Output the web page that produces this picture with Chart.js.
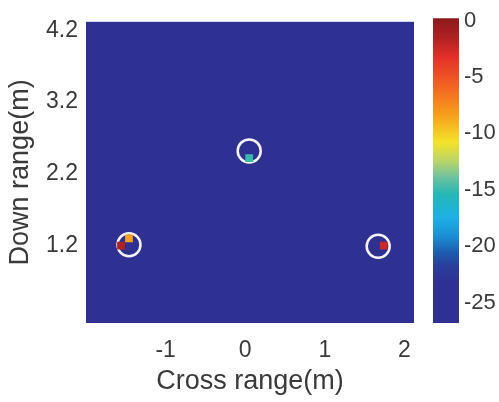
<!DOCTYPE html>
<html>
<head>
<meta charset="utf-8">
<script src="https://cdn.jsdelivr.net/npm/chart.js@4"></script>
<style>
    html, body { margin: 0; padding: 0; background: #fff; overflow: hidden; }
    #wrap { position: relative; width: 499px; height: 402px; }
    #mapChart { position: absolute; left: 0; top: 0; }
    #barChart { position: absolute; left: 433px; top: 0; }
</style>
</head>
<body>
<div id="wrap">
    <canvas id="mapChart" width="499" height="402"></canvas>
    <canvas id="barChart" width="66" height="402"></canvas>
</div>
<script>
const xTicks = [-1, 0, 1, 2];
const yTicks = [1.2, 2.2, 3.2, 4.2];
const cbTicks = [0, -5, -10, -15, -20, -25];

// target markers (white circles)
const targetX = [-1.46, 0.05, 1.67];
const targetY = [1.21, 2.52, 1.19];

// image peaks, in dB
const peakX = [-1.46, -1.56, 0.05, 1.74];
const peakY = [1.30, 1.20, 2.42, 1.20];
const peakDb = [-8.5, -1.5, -15, -2.5];

const floorDb = -26.8;
const topDb = 0.2;

// colormap
const cmapDb = [0.2, -1.6, -3.3, -5.9, -8.5, -10.8, -12.5, -13.9, -15.4, -17.4, -19.1, -20.5, -21.7, -23.1, -26.8];
const cmapCol = ['#8b1a1a', '#b22222', '#e53028', '#f26522', '#f7a21b', '#f4e32a', '#b8d46a', '#6cc2a0',
    '#25b7b5', '#1db1e5', '#1a8fd5', '#1c5eae', '#2a3f9c', '#2e3192', '#2e3192'];

function hexRgb(h) {
    return [parseInt(h.substr(1, 2), 16), parseInt(h.substr(3, 2), 16), parseInt(h.substr(5, 2), 16)];
}

function dbColor(v) {
    if (v >= cmapDb[0]) return cmapCol[0];
    for (let i = 1; i < cmapDb.length; i++) {
        if (v >= cmapDb[i]) {
            const t = (cmapDb[i - 1] - v) / (cmapDb[i - 1] - cmapDb[i]);
            const a = hexRgb(cmapCol[i - 1]), b = hexRgb(cmapCol[i]);
            const c = a.map((x, k) => Math.round(x + (b[k] - x) * t));
            return 'rgb(' + c.join(',') + ')';
        }
    }
    return cmapCol[cmapCol.length - 1];
}

const font = { family: '"Liberation Sans", Arial, sans-serif', size: 23 };
const cbFont = { family: '"Liberation Sans", Arial, sans-serif', size: 22 };
const titleFont = { family: '"Liberation Sans", Arial, sans-serif', size: 27 };
const textColor = '#3a3a3a';

const mapBackground = {
    id: 'mapBackground',
    beforeDatasetsDraw(chart) {
        const a = chart.chartArea;
        const ctx = chart.ctx;
        ctx.save();
        ctx.fillStyle = dbColor(floorDb);
        ctx.fillRect(a.left, a.top, a.right - a.left, a.bottom - a.top);
        ctx.restore();
    }
};

new Chart(document.getElementById('mapChart'), {
    type: 'scatter',
    data: {
        datasets: [{
            data: peakX.map((x, i) => ({ x: x, y: peakY[i] })),
            pointStyle: 'rect',
            pointRadius: 5.5,
            borderWidth: 0,
            backgroundColor: peakDb.map(dbColor),
            order: 0
        }, {
            data: targetX.map((x, i) => ({ x: x, y: targetY[i] })),
            pointStyle: 'circle',
            pointRadius: 11.5,
            borderWidth: 2.5,
            borderColor: '#f4f4f8',
            backgroundColor: 'rgba(0,0,0,0)',
            order: 1
        }]
    },
    options: {
        responsive: false,
        animation: false,
        events: [],
        layout: { padding: { top: 11, right: 85, left: 0, bottom: 0 } },
        plugins: { legend: { display: false }, tooltip: { enabled: false } },
        scales: {
            x: {
                min: -2.0,
                max: 2.12,
                afterBuildTicks: (s) => { s.ticks = xTicks.map(v => ({ value: v })); },
                afterFit: (s) => { s.height = 79; },
                grid: { display: false, drawTicks: false },
                border: { display: false },
                ticks: { font: font, color: textColor, padding: 14 },
                title: { display: true, text: 'Cross range(m)', font: titleFont, color: textColor, padding: { top: 1 } }
            },
            y: {
                min: 0.12,
                max: 4.32,
                afterBuildTicks: (s) => { s.ticks = yTicks.map(v => ({ value: v })); },
                afterFit: (s) => { s.width = 86; },
                grid: { display: false, drawTicks: false },
                border: { display: false },
                ticks: { font: font, color: textColor, padding: 8, callback: (v) => v.toFixed(1) },
                title: { display: true, text: 'Down range(m)', font: titleFont, color: textColor, padding: { bottom: 0 } }
            }
        }
    },
    plugins: [mapBackground]
});

new Chart(document.getElementById('barChart'), {
    type: 'bar',
    data: {
        labels: ['dB'],
        datasets: [{
            data: [[floorDb, topDb]],
            categoryPercentage: 1,
            barPercentage: 1,
            borderWidth: 0,
            borderSkipped: false,
            backgroundColor: (ctx) => {
                const chart = ctx.chart;
                if (!chart.chartArea) return '#2e3192';
                const y = chart.scales.y;
                const g = chart.ctx.createLinearGradient(0, y.getPixelForValue(topDb), 0, y.getPixelForValue(floorDb));
                cmapDb.forEach((v, i) => {
                    const t = (topDb - v) / (topDb - floorDb);
                    g.addColorStop(Math.min(1, Math.max(0, t)), cmapCol[i]);
                });
                return g;
            }
        }]
    },
    options: {
        responsive: false,
        animation: false,
        events: [],
        layout: { padding: { top: 11, bottom: 79, left: 0, right: 0 } },
        plugins: { legend: { display: false }, tooltip: { enabled: false } },
        scales: {
            x: { display: false },
            y: {
                position: 'right',
                min: floorDb,
                max: topDb,
                afterBuildTicks: (s) => { s.ticks = cbTicks.map(v => ({ value: v })); },
                afterFit: (s) => { s.width = 40; },
                grid: { display: false, drawTicks: false },
                border: { display: false },
                ticks: { font: cbFont, color: textColor, padding: 5 }
            }
        }
    }
});
</script>
</body>
</html>
